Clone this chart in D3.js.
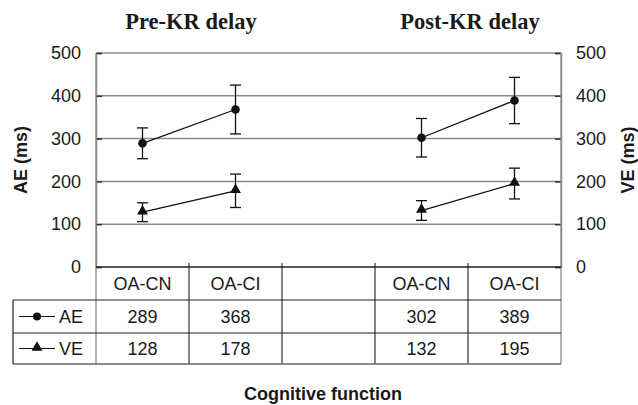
<!DOCTYPE html>
<html>
<head>
<meta charset="utf-8">
<script src="https://cdn.jsdelivr.net/npm/d3@7"></script>
<style>
  body { margin: 0; background: #fff; }
  text { font-family: "Liberation Sans", Arial, sans-serif; fill: #1a1a1a; }
</style>
</head>
<body>
<svg id="chart" width="638" height="405"></svg>
<script>
// columns (the middle one is an empty spacer between the two delays)
const columns = ['c1', 'c2', 'c3', 'c4', 'c5'];
const columnLabels = ['OA-CN', 'OA-CI', '', 'OA-CN', 'OA-CI'];
const groups = [['Pre-KR delay', ['c1', 'c2']], ['Post-KR delay', ['c4', 'c5']]];

const aeValues = [289, 368, null, 302, 389];
const aeErrors = [36, 57, null, 45, 54];
const veValues = [128, 178, null, 132, 195];
const veErrors = [22, 39, null, 23, 36];

const yTicks = [0, 100, 200, 300, 400, 500];

const svg = d3.select('#chart');
const plotL = 96, plotR = 561, plotT = 53, plotB = 267;
const rowH = [33, 33, 31];
const FS = '18px';

const x = d3.scaleBand().domain(columns).range([plotL, plotR]);
const y = d3.scaleLinear().domain([0, 500]).range([plotB, plotT]);

// gridlines
svg.append('g')
    .selectAll('line')
    .data(yTicks.filter((t) => t > 0))
    .enter().append('line')
    .attr('x1', plotL).attr('x2', plotR)
    .attr('y1', (d) => y(d)).attr('y2', (d) => y(d))
    .attr('stroke', '#8a8a8a').attr('stroke-width', 1.5);

// axes (ticks point inwards)
const yl = svg.append('g').attr('transform', `translate(${plotL},0)`)
    .call(d3.axisLeft(y).tickValues(yTicks).tickSize(-6).tickPadding(15));
const yr = svg.append('g').attr('transform', `translate(${plotR},0)`)
    .call(d3.axisRight(y).tickValues(yTicks).tickSize(-6).tickPadding(15));
[yl, yr].forEach((g) => {
    g.select('.domain').attr('stroke', '#8a8a8a').attr('stroke-width', 1.5);
    g.selectAll('.tick line').attr('stroke', '#333').attr('stroke-width', 1.5);
    g.selectAll('.tick text').style('font-size', FS).attr('fill', '#1a1a1a')
        .style('font-family', '"Liberation Sans", Arial, sans-serif');
});

// table
const tableB = plotB + rowH[0] + rowH[1] + rowH[2];
const rowY = [plotB, plotB + rowH[0], plotB + rowH[0] + rowH[1], tableB];
const tbl = svg.append('g');
// vertical column lines (poke a little above the zero line)
const edges = columns.map((c) => x(c)).concat([plotR]);
tbl.selectAll('line.v').data(edges).enter().append('line')
    .attr('x1', (d) => d).attr('x2', (d) => d)
    .attr('y1', (d, i) => (i === 0 || i === edges.length - 1) ? plotT : plotB - 4)
    .attr('y2', tableB)
    .attr('stroke', (d, i) => (i === 0 || i === edges.length - 1) ? '#8a8a8a' : '#444')
    .attr('stroke-width', 1.3);
// horizontal lines
tbl.append('line').attr('x1', plotL).attr('x2', plotR).attr('y1', rowY[0]).attr('y2', rowY[0])
    .attr('stroke', '#222').attr('stroke-width', 1.5);
[rowY[1], rowY[2]].forEach((yy) => {
    tbl.append('line').attr('x1', 13).attr('x2', plotR).attr('y1', yy).attr('y2', yy)
        .attr('stroke', '#222').attr('stroke-width', 1.2);
});
tbl.append('line').attr('x1', 13).attr('x2', plotR).attr('y1', rowY[3]).attr('y2', rowY[3])
    .attr('stroke', '#666').attr('stroke-width', 1.5);
tbl.append('line').attr('x1', 13).attr('x2', 13).attr('y1', rowY[1]).attr('y2', rowY[3])
    .attr('stroke', '#222').attr('stroke-width', 1.2);

// header labels
tbl.selectAll('text.h').data(columns).enter().append('text')
    .attr('x', (d) => x(d) + x.bandwidth() / 2)
    .attr('y', rowY[0] + rowH[0] / 2 + 6)
    .attr('text-anchor', 'middle').style('font-size', FS)
    .text((d, i) => columnLabels[i]);

// value rows
[[aeValues, 1], [veValues, 2]].forEach(([vals, r]) => {
    tbl.selectAll(null).data(columns).enter().append('text')
        .attr('x', (d) => x(d) + x.bandwidth() / 2)
        .attr('y', rowY[r] + rowH[r] / 2 + 6)
        .attr('text-anchor', 'middle').style('font-size', FS)
        .text((d, i) => vals[i] == null ? '' : vals[i]);
});

const triangle = d3.symbol().type(d3.symbolTriangle).size(52);

// legend cells
[['AE', 1, 'circle'], ['VE', 2, 'triangle']].forEach(([name, r, shape]) => {
    const cy = rowY[r] + rowH[r] / 2;
    tbl.append('line').attr('x1', 19).attr('x2', 55).attr('y1', cy).attr('y2', cy)
        .attr('stroke', '#111').attr('stroke-width', 1.2);
    if (shape === 'circle') {
        tbl.append('circle').attr('cx', 37).attr('cy', cy).attr('r', 4).attr('fill', '#111');
    } else {
        tbl.append('path').attr('d', triangle).attr('transform', `translate(37,${cy - 1})`)
            .attr('fill', '#111');
    }
    tbl.append('text').attr('x', 59).attr('y', cy + 6).style('font-size', FS).text(name);
});

// series
const cx = (c) => x(c) + x.bandwidth() / 2;
function drawSeries(values, errors, shape) {
    const g = svg.append('g');
    groups.forEach(([, cols]) => {
        const pts = cols.map((c) => ({c, v: values[columns.indexOf(c)]}));
        g.append('path')
            .attr('d', d3.line().x((d) => cx(d.c)).y((d) => y(d.v))(pts))
            .attr('fill', 'none').attr('stroke', '#111').attr('stroke-width', 1.3);
    });
    columns.forEach((c, i) => {
        if (values[i] == null) return;
        const xx = cx(c);
        const hi = y(values[i] + errors[i]);
        const lo = y(values[i] - errors[i]);
        g.append('line').attr('x1', xx).attr('x2', xx).attr('y1', hi).attr('y2', lo)
            .attr('stroke', '#111').attr('stroke-width', 1.3);
        [hi, lo].forEach((yy) => {
            g.append('line').attr('x1', xx - 5.5).attr('x2', xx + 5.5).attr('y1', yy).attr('y2', yy)
                .attr('stroke', '#111').attr('stroke-width', 1.3);
        });
        if (shape === 'circle') {
            g.append('circle').attr('cx', xx).attr('cy', y(values[i])).attr('r', 4.3).attr('fill', '#111');
        } else {
            g.append('path').attr('d', triangle)
                .attr('transform', `translate(${xx},${y(values[i]) - 1})`).attr('fill', '#111');
        }
    });
}
drawSeries(aeValues, aeErrors, 'circle');
drawSeries(veValues, veErrors, 'triangle');

// titles
groups.forEach(([name, cols]) => {
    svg.append('text')
        .attr('x', (x(cols[0]) + x(cols[1]) + x.bandwidth()) / 2 + 2)
        .attr('y', 29)
        .attr('text-anchor', 'middle')
        .style('font-family', '"Liberation Serif", "Times New Roman", serif')
        .style('font-weight', 'bold').style('font-size', '22.5px')
        .text(name);
});

svg.append('text')
    .attr('transform', `translate(27,${(plotT + plotB) / 2}) rotate(-90)`)
    .attr('text-anchor', 'middle').style('font-weight', 'bold').style('font-size', FS)
    .text('AE (ms)');
svg.append('text')
    .attr('transform', `translate(634,${(plotT + plotB) / 2}) rotate(-90)`)
    .attr('text-anchor', 'middle').style('font-weight', 'bold').style('font-size', FS)
    .text('VE (ms)');

svg.append('text')
    .attr('x', 323).attr('y', 400)
    .attr('text-anchor', 'middle').style('font-weight', 'bold').style('font-size', FS)
    .text('Cognitive function');
</script>
</body>
</html>
